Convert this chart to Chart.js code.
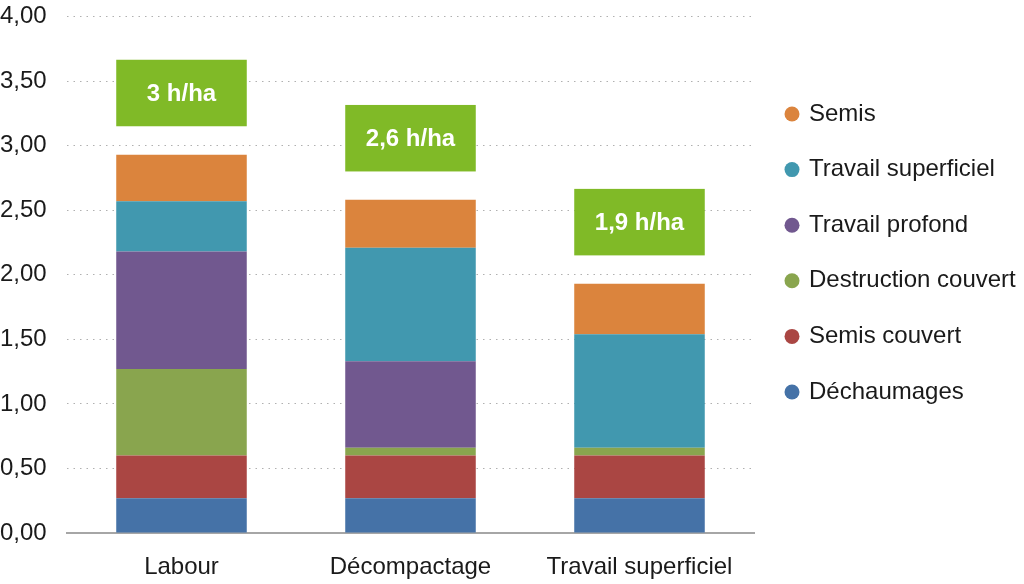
<!DOCTYPE html>
<html>
<head>
<meta charset="utf-8">
<script src="https://cdn.jsdelivr.net/npm/chart.js@4.4.1/dist/chart.umd.min.js"></script>
<style>
  html, body { margin: 0; padding: 0; background: #ffffff; }
  #wrap { width: 1024px; height: 584px; position: relative; }
</style>
</head>
<body>
<div id="wrap"><canvas id="c" width="1024" height="584"></canvas></div>
<script>
// ---- data ----
const categories = ['Labour', 'Décompactage', 'Travail superficiel'];
const dechaumages = [0.27, 0.27, 0.27];
const semisCouvert = [0.33, 0.33, 0.33];
const destructionCouvert = [0.67, 0.06, 0.06];
const travailProfond = [0.91, 0.67, 0];
const travailSuperficiel = [0.39, 0.88, 0.88];
const semis = [0.36, 0.37, 0.39];
const totalLabels = ['3 h/ha', '2,6 h/ha', '1,9 h/ha'];
const yTickLabels = ['0,00', '0,50', '1,00', '1,50', '2,00', '2,50', '3,00', '3,50', '4,00'];

const FONT = '"Liberation Sans", Arial, sans-serif';
const FS = 24;

const boxPlugin = {
  id: 'totalBoxes',
  afterDatasetsDraw(chart) {
    const ctx = chart.ctx;
    const y = chart.scales.y;
    const n = chart.data.datasets.length;
    const meta = chart.getDatasetMeta(n - 1);
    categories.forEach((cat, i) => {
      let total = 0;
      chart.data.datasets.forEach(ds => { total += ds.data[i]; });
      const el = meta.data[i];
      const w = el.width;
      const left = el.x - w / 2;
      const bottom = y.getPixelForValue(total + 0.22);
      const top = y.getPixelForValue(total + 0.22 + 0.515);
      ctx.save();
      ctx.fillStyle = '#80BA27';
      ctx.fillRect(left, top, w, bottom - top);
      ctx.fillStyle = '#ffffff';
      ctx.font = 'bold ' + FS + 'px ' + FONT;
      ctx.textAlign = 'center';
      ctx.textBaseline = 'middle';
      ctx.fillText(totalLabels[i], el.x, (top + bottom) / 2 + 1);
      ctx.restore();
    });
  }
};

// legend drawn to the right of the plot, items in reverse dataset order
const legendPlugin = {
  id: 'sideLegend',
  afterDraw(chart) {
    const ctx = chart.ctx;
    const area = chart.chartArea;
    const ds = chart.data.datasets;
    const x0 = area.right + 38;
    const y0 = area.top + 97.5;
    const step = 55.6;
    ctx.save();
    ctx.font = FS + 'px ' + FONT;
    ctx.textBaseline = 'middle';
    ctx.textAlign = 'left';
    for (let k = 0; k < ds.length; k++) {
      const d = ds[ds.length - 1 - k];
      const yc = y0 + k * step;
      ctx.fillStyle = d.backgroundColor;
      ctx.beginPath();
      ctx.arc(x0, yc, 7.5, 0, Math.PI * 2);
      ctx.fill();
      ctx.fillStyle = '#1a1a1a';
      ctx.fillText(d.label, x0 + 17, yc);
    }
    ctx.restore();
  }
};

new Chart(document.getElementById('c'), {
  type: 'bar',
  data: {
    labels: categories,
    datasets: [
      { label: 'Déchaumages', data: dechaumages, backgroundColor: '#4572A7' },
      { label: 'Semis couvert', data: semisCouvert, backgroundColor: '#AA4643' },
      { label: 'Destruction couvert', data: destructionCouvert, backgroundColor: '#89A54E' },
      { label: 'Travail profond', data: travailProfond, backgroundColor: '#71588F' },
      { label: 'Travail superficiel', data: travailSuperficiel, backgroundColor: '#4198AF' },
      { label: 'Semis', data: semis, backgroundColor: '#DB843D' }
    ]
  },
  options: {
    responsive: false,
    animation: false,
    devicePixelRatio: 1,
    layout: { padding: { top: 16.5, left: 0, right: 270, bottom: 2 } },
    datasets: { bar: { barPercentage: 0.57, categoryPercentage: 1.0, borderWidth: 0 } },
    scales: {
      x: {
        stacked: true,
        afterFit: (scale) => { scale.height = 49; },
        grid: { display: false, drawTicks: false },
        border: { display: true, color: '#a6a6a6', width: 2 },
        ticks: { color: '#1a1a1a', font: { family: FONT, size: FS }, padding: 20, maxRotation: 0 }
      },
      y: {
        stacked: true,
        min: 0, max: 4,
        afterFit: (scale) => { scale.width = 67; },
        ticks: {
          stepSize: 0.5,
          color: '#1a1a1a',
          font: { family: FONT, size: FS },
          padding: 0,
          crossAlign: 'far',
          callback: (v, i) => yTickLabels[i]
        },
        grid: {
          drawTicks: false,
          color: (c) => c.index === 0 ? 'rgba(0,0,0,0)' : '#b0b0b0',
          lineWidth: 1
        },
        border: { display: false, dash: [1.5, 5] }
      }
    },
    plugins: {
      legend: { display: false },
      tooltip: { enabled: false }
    }
  },
  plugins: [boxPlugin, legendPlugin]
});
</script>
</body>
</html>
